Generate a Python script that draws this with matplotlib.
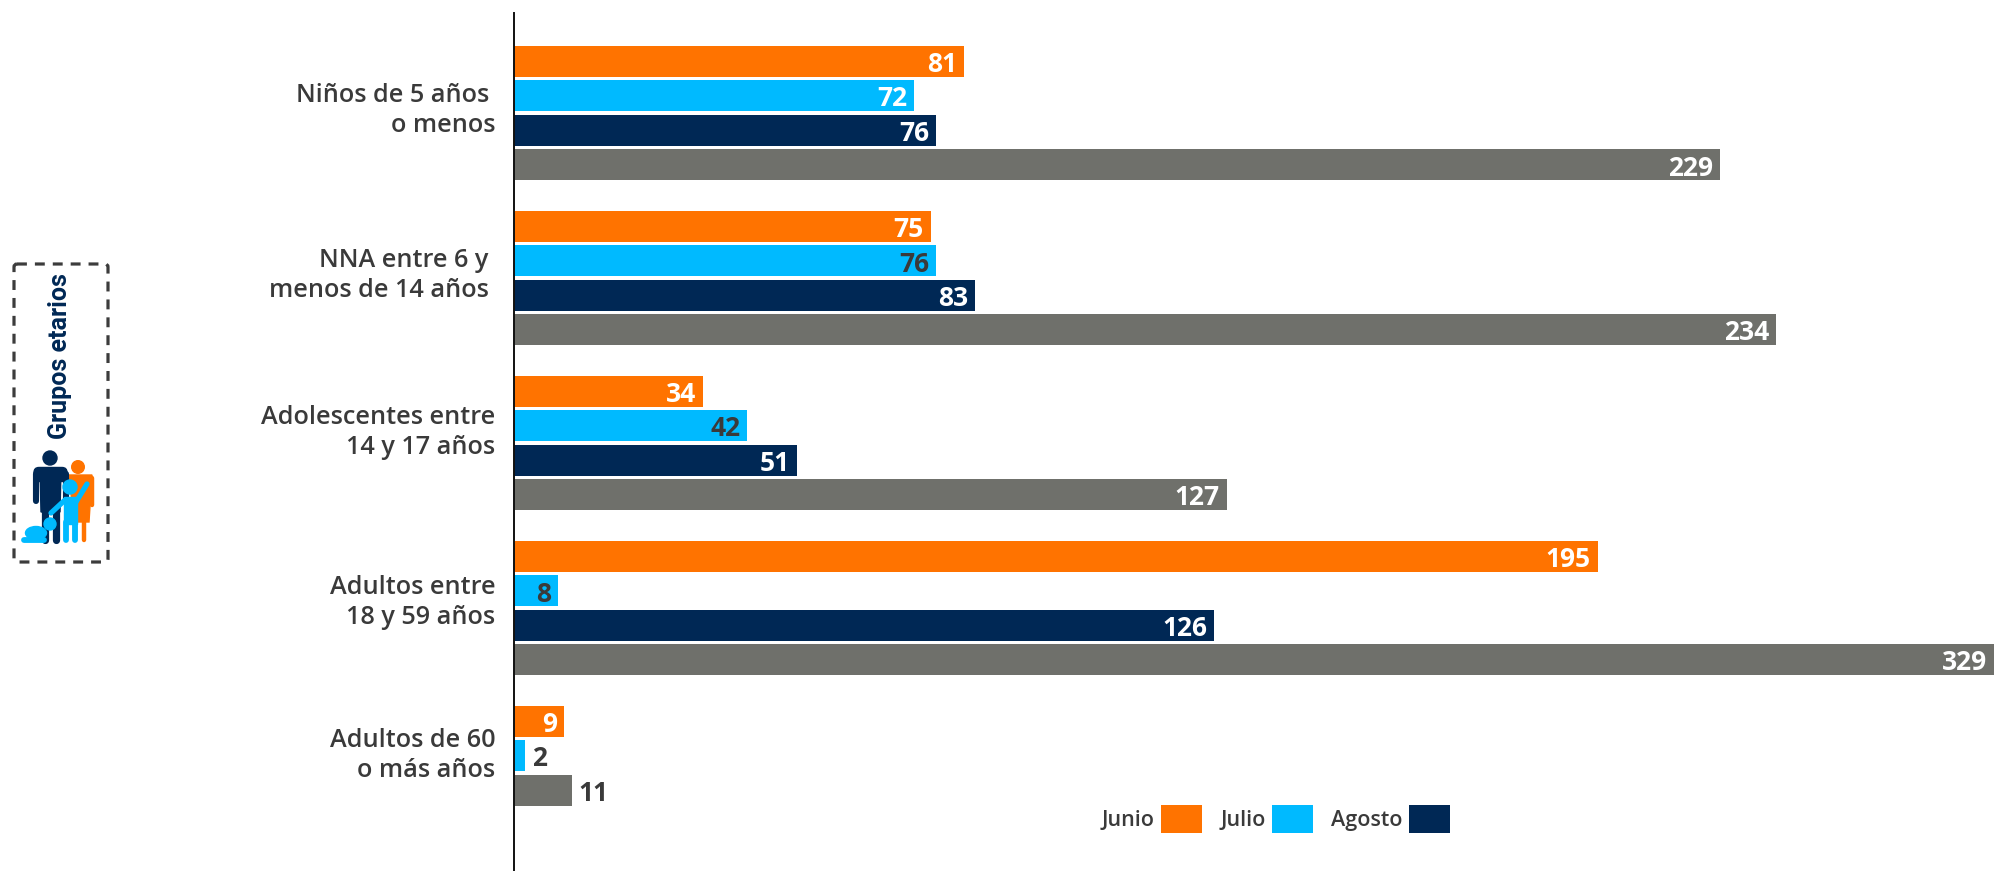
import matplotlib
matplotlib.use("Agg")
import matplotlib.pyplot as plt
from matplotlib.patches import Circle, FancyBboxPatch, Polygon, Ellipse

# ---- data ----
groups = ["Niños de 5 años \no menos", "NNA entre 6 y \nmenos de 14 años ",
          "Adolescentes entre\n14 y 17 años", "Adultos entre\n18 y 59 años",
          "Adultos de 60\no más años"]
junio = [81, 75, 34, 195, 9]
julio = [72, 76, 42, 8, 2]
agosto = [76, 83, 51, 126, None]
total_labels = [229, 234, 127, 329, 11]
# The grey bars in the source are not drawn to the scale of their labels
total_drawn = [217.0, 227.1, 128.3, 266.3, 10.4]

series_names = ["Junio", "Julio", "Agosto"]
colors = ["#FF7300", "#00BAFF", "#002855", "#6F706B"]
dark = "#3A3A3A"

W, H = 1994, 871
fig = plt.figure(figsize=(W/100, H/100), dpi=100, facecolor="white")
plt.rcParams['font.family'] = ['Open Sans', 'DejaVu Sans']

TOP, BOTTOM, LEFT = 13, 871, 514
ax = fig.add_axes([LEFT/W, 0, 1-LEFT/W, (BOTTOM-TOP)/H])
px_group, px_slot, px_bar = 165.0, 34.5, 31.0
first_center = 61.5
ax.set_xlim(0, 266.3)
ax.set_ylim((BOTTOM-first_center)/px_group, (TOP-first_center)/px_group)
slot = px_slot/px_group
bh = px_bar/px_group

label_px = [105, 270, 427, 597, 750]
ax.set_yticks([(p-first_center)/px_group for p in label_px])
ax.set_yticklabels(groups, fontsize=18.2, fontweight=600, color=dark, linespacing=1.26,
                   ha="right", ma="right")
ax.tick_params(axis="y", length=0, pad=13.5)
ax.set_xticks([])
for s in ("top", "right", "bottom"):
    ax.spines[s].set_visible(False)
ax.spines["left"].set_linewidth(1.4)
ax.spines["left"].set_color("#111111")
ax.set_zorder(2)

def put(val, lab, y, col, inside=True, off=-5.2):
    ax.annotate(str(lab), (val, y), xytext=(off if inside else 5, 0), textcoords="offset points",
                ha="right" if inside else "left", va="center_baseline", fontsize=19,
                fontweight="bold", color=col, annotation_clip=False)

label_colors = [
    ["white"]*5,
    ["white", dark, dark, dark, dark],
    ["white"]*4 + [None],
    ["white"]*4 + [dark],
]
for g in range(len(groups)):
    s = 0
    rows = [junio[g], julio[g], agosto[g]]
    for k, v in enumerate(rows):
        if v is None:
            continue
        y = g + s*slot
        ax.barh(y, v, height=bh, color=colors[k], label=series_names[k] if g == 0 else None)
        inside = v > 5
        put(v, v, y, label_colors[k][g], inside)
        s += 1
    y = g + s*slot
    ax.barh(y, total_drawn[g], height=bh, color=colors[3])
    inside = total_labels[g] > 11
    put(total_drawn[g], total_labels[g], y, label_colors[3][g], inside)

ax.legend(ncol=3, markerfirst=False, frameon=False, prop={"size": 15.5, "weight": 600},
          labelcolor=dark, handlelength=1.9, handleheight=1.58, handletextpad=0.3,
          columnspacing=0.84, borderpad=0, borderaxespad=0,
          loc="center left", bbox_to_anchor=(1102/W, 1-819/H), bbox_transform=fig.transFigure)

# ---- decoration panel, in pixel coordinates ----
ov = fig.add_axes([0, 0, 1, 1])
ov.set_xlim(0, W); ov.set_ylim(H, 0); ov.axis("off"); ov.patch.set_alpha(0)
ov.add_patch(FancyBboxPatch((14, 264), 94, 298, boxstyle="round,pad=0,rounding_size=3",
                            fill=False, ec="#3C3C3C", lw=2.3, ls=(0, (3.1, 2.5))))
ov.text(60, 356, "Grupos etarios", rotation=90, ha="center", va="center", color="#002855",
        fontsize=18, fontweight="bold", family=["Roboto", "DejaVu Sans"])
navy, orange, cyan = colors[2], colors[0], colors[1]
def limb(xs, ys, c, w, z):
    ov.plot(xs, ys, color=c, lw=w, solid_capstyle="round", solid_joinstyle="round", zorder=z)
# woman
ov.add_patch(Circle((78, 467), 6.3, color=orange, zorder=3))
ov.add_patch(Polygon([(69, 475), (92, 475), (89, 522), (74, 522)], color=orange, zorder=3))
limb([92, 92], [478, 505], orange, 3.2, 3)
limb([75, 75], [520, 540], orange, 3.2, 3)
limb([84, 84], [520, 540], orange, 3.2, 3)
# man
ov.add_patch(Circle((50, 458), 7, color=navy, zorder=4))
ov.add_patch(FancyBboxPatch((34, 467.5), 33, 14, boxstyle="round,pad=0,rounding_size=5", color=navy, zorder=4))
ov.add_patch(Polygon([(40, 470), (61, 470), (60, 512), (41, 512)], color=navy, zorder=4))
limb([35.5, 35.5], [474, 501], navy, 4.4, 4)
limb([65.5, 65.5], [474, 501], navy, 4.4, 4)
limb([45, 45], [510, 540], navy, 5.2, 4)
limb([56, 56], [510, 540], navy, 5.2, 4)
# child
ov.add_patch(Circle((70, 487), 7, color=cyan, zorder=5))
ov.add_patch(Polygon([(64, 497), (77, 497), (77, 524), (64, 524)], color=cyan, zorder=5))
limb([76, 87], [502, 484], cyan, 3.8, 5)
limb([65, 51], [500, 513], cyan, 3.8, 5)
limb([66, 66], [522, 540], cyan, 4.2, 5)
limb([75, 75], [522, 540], cyan, 4.2, 5)
# baby
ov.add_patch(Circle((50, 524), 6, color=cyan, zorder=6))
ov.add_patch(Ellipse((36, 533), 21, 13, color=cyan, zorder=6))
limb([24, 44], [540, 540], cyan, 4.2, 6)

fig.savefig("out.png", dpi=100, facecolor="white")
